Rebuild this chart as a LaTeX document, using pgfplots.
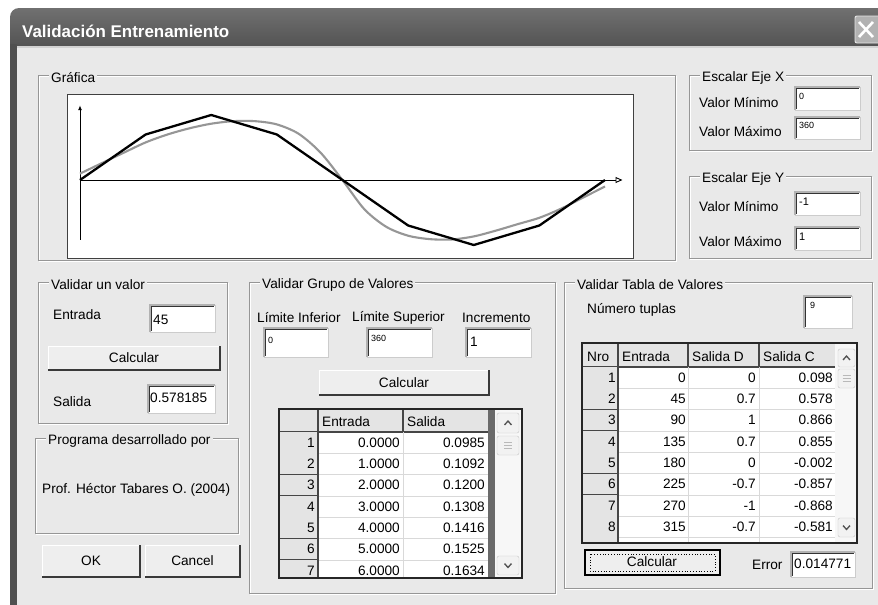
\documentclass[border=0pt]{standalone}
\usepackage{pgfplots}
\pgfplotsset{compat=1.18}
\usetikzlibrary{arrows.meta}
\usepackage{fontspec}
\setmainfont{Liberation Sans}
\definecolor{bg}{RGB}{233,233,233}
\definecolor{btnbg}{RGB}{238,238,238}
\definecolor{cellbg}{RGB}{228,228,228}
\definecolor{gline}{RGB}{150,150,150}
\definecolor{dark}{RGB}{80,80,80}
\definecolor{netgray}{RGB}{150,150,150}
\newcommand\gf{\fontsize{13.7}{16}\selectfont}
\newcommand\smf{\fontsize{9}{10}\selectfont}
\newcommand\gbox[5]{%
  \draw[white] (#1+1,#2+1) rectangle (#3+1,#4+1);
  \draw[gline] (#1,#2) rectangle (#3,#4);
  \node[fill=bg, inner xsep=2bp, inner ysep=1bp, anchor=west] at (#1+11,#2+2.5) {#5};}
\newcommand\tb[4]{%
  \fill[white] (#1,#2) rectangle (#3,#4);
  \draw[gray!40] (#1,#4) -- (#3,#4) -- (#3,#2);
  \draw[gray!60, line width=1.2] (#1,#4) -- (#1,#2) -- (#3,#2);
  \draw[gray!40!black, line width=0.9] (#1+1.3,#4-1) -- (#1+1.3,#2+1.3) -- (#3-1,#2+1.3);}
\newcommand\btn[5]{%
  \fill[btnbg] (#1,#2) rectangle (#3,#4);
  \draw[white, line width=1] (#1,#4) -- (#1,#2) -- (#3,#2);
  \draw[gray!45!black, line width=1.3] (#1,#4) -- (#3,#4) -- (#3,#2);
  \node at ({(#1+#3)/2},{(#2+#4)/2}) {#5};}
\newcommand\sbtn[5]{%
  \filldraw[fill=gray!10, draw=gray!45, rounded corners=2bp] (#1,#2) rectangle (#3,#4);
  \draw[gray!65!black, line width=1.4] ({(#1+#3)/2-3.5},{(#2+#4)/2+#5*1.8}) -- ({(#1+#3)/2},{(#2+#4)/2-#5*1.8}) -- ({(#1+#3)/2+3.5},{(#2+#4)/2+#5*1.8});}
\newcommand\thumb[4]{%
  \filldraw[fill=gray!10, draw=gray!45, rounded corners=2bp] (#1,#2) rectangle (#3,#4);
  \draw[gray!55] ({(#1+#3)/2-4},{(#2+#4)/2-3}) -- ++(8,0) ({(#1+#3)/2-4},{(#2+#4)/2}) -- ++(8,0) ({(#1+#3)/2-4},{(#2+#4)/2+3}) -- ++(8,0);}
\begin{document}
\begin{tikzpicture}
\useasboundingbox (0,0) rectangle (878bp,-605bp);
\clip (0,0) rectangle (878bp,-605bp);
\begin{scope}[x=1bp,y=-1bp, every node/.style={font=\gf, inner sep=0pt, text=black}]
\fill[white] (0,0) rectangle (878,605);
% title bar
\path[rounded corners=9bp, top color={rgb,255:red,112;green,112;blue,112}, bottom color={rgb,255:red,66;green,66;blue,66}] (10,8) rectangle (900,70);
\fill[dark] (10,44) rectangle (17,605);
\fill[bg] (17,47) rectangle (878,605);
\fill[gray!35] (17,46) rectangle (878,47.5);
\node[anchor=west, text=white, font=\fontsize{17}{20}\selectfont\bfseries] at (22,31) {Validación Entrenamiento};
% close button
\filldraw[fill=gray!60, draw=gray!20, line width=1, rounded corners=2bp] (855,16) rectangle (886,43);
\draw[white, line width=2.6] (859,22) -- (873,37) (873,22) -- (859,37);
% ---------- Grafica ----------
\gbox{38}{75}{675}{260}{Gráfica}
\fill[white] (67,94) rectangle (633,258);
\draw[gray!50!black] (67,94) rectangle (633,258);
% ---------- Escalar Eje X ----------
\gbox{689}{75}{871}{150}{Escalar Eje X}
\node[anchor=west] at (699,103) {Valor Mínimo};
\node[anchor=west] at (699,132) {Valor Máximo};
\tb{795}{87}{860}{110}
\node[anchor=west, font=\smf] at (799,96) {0};
\tb{795}{117}{860}{139}
\node[anchor=west, font=\smf] at (799,125) {360};
% ---------- Escalar Eje Y ----------
\gbox{689}{176}{871}{258}{Escalar Eje Y}
\node[anchor=west] at (699,207) {Valor Mínimo};
\node[anchor=west] at (699,242) {Valor Máximo};
\tb{795}{192}{860}{215}
\node[anchor=west, font=\fontsize{11}{12}\selectfont] at (799,202) {-1};
\tb{795}{227}{860}{250}
\node[anchor=west, font=\fontsize{11}{12}\selectfont] at (799,237) {1};
% ---------- Validar un valor ----------
\gbox{38}{282}{227}{423}{Validar un valor}
\node[anchor=west] at (53,315) {Entrada};
\tb{150}{305}{215}{332}
\node[anchor=west] at (153,320) {45};
\btn{48}{346}{220}{370}{Calcular}
\node[anchor=west] at (53,402) {Salida};
\tb{148}{385}{215}{413}
\node[anchor=west] at (150,398) {0.578185};
% ---------- Programa ----------
\gbox{35}{438}{238}{533}{Programa desarrollado por}
\node[anchor=west] at (42,490) {Prof. Héctor Tabares O. (2004)};
\btn{42}{545}{140}{577}{OK}
\btn{145}{545}{240}{577}{Cancel}
% ---------- Validar Grupo ----------
\gbox{249}{282}{555}{593}{Validar Grupo de Valores}
\node[anchor=west] at (257,318) {Límite Inferior};
\node[anchor=west] at (352,318) {Límite Superior};
\node[anchor=west] at (462,318) {Incremento};
\tb{264}{328}{328}{357}
\node[anchor=west, font=\smf] at (268,340) {0};
\tb{367}{328}{432}{357}
\node[anchor=west, font=\smf] at (371,338) {360};
\tb{466}{328}{531}{357}
\node[anchor=west] at (470,342) {1};
\btn{319}{370}{489}{395}{Calcular}
% table 1
\fill[white] (279,409) rectangle (522,578);
\begin{scope}
\clip (280,410) rectangle (521,577);
\fill[cellbg] (280,410) rectangle (488,432);
\draw[gray!55!black, line width=1.2] (318,410) -- (318,432) (403,410) -- (403,432) (280,432) -- (488,432);
\node[anchor=west] at (322,422) {Entrada};
\node[anchor=west] at (407,422) {Salida};
\foreach \i/\a/\b in {1/0.0000/0.0985,2/1.0000/0.1092,3/2.0000/0.1200,4/3.0000/0.1308,5/4.0000/0.1416,6/5.0000/0.1525,7/6.0000/0.1634}{
  \pgfmathsetmacro\yt{432+(\i-1)*21.3}
  \pgfmathsetmacro\yb{\yt+21.3}
  \pgfmathsetmacro\yc{\yt+10.7}
  \fill[cellbg] (280,\yt) rectangle (318,\yb);
  \draw[gray!30] (318,\yb) -- (488,\yb) (403,\yt) -- (403,\yb);
  \draw[gray!55!black, line width=1.2] (280,\yb) -- (318,\yb) -- (318,\yt);
  \node[anchor=east] at (315,\yc) {\i};
  \node[anchor=east] at (400,\yc) {\a};
  \node[anchor=east] at (485,\yc) {\b};
}
\fill[dark!85] (488,410) rectangle (495,577);
\fill[gray!6] (495,410) rectangle (521,577);
\end{scope}
\draw[gray!30!black, line width=1.6] (279,409) rectangle (522,578);
\sbtn{497}{413}{519}{433}{1}
\thumb{497}{436}{519}{455}
\sbtn{497}{556}{519}{575}{-1}
% ---------- Validar Tabla ----------
\gbox{564}{282}{872}{588}{Validar Tabla de Valores}
\node[anchor=west] at (587,310) {Número tuplas};
\tb{804}{296}{852}{328}
\node[anchor=west, font=\smf] at (810,305) {9};
% table 2
\fill[white] (582,343) rectangle (857,543);
\begin{scope}
\clip (583,344) rectangle (856,542);
\fill[cellbg] (583,344) rectangle (835,367);
\draw[gray!55!black, line width=1.2] (618,344) -- (618,367) (688,344) -- (688,367) (759,344) -- (759,367) (583,367) -- (835,367);
\node[anchor=west] at (587,357) {Nro};
\node[anchor=west] at (622,357) {Entrada};
\node[anchor=west] at (692,357) {Salida D};
\node[anchor=west] at (763,357) {Salida C};
\foreach \i/\a/\b/\c in {1/0/0/0.098,2/45/0.7/0.578,3/90/1/0.866,4/135/0.7/0.855,5/180/0/-0.002,6/225/-0.7/-0.857,7/270/-1/-0.868,8/315/-0.7/-0.581,9/ / / }{
  \pgfmathsetmacro\yt{367+(\i-1)*21.3}
  \pgfmathsetmacro\yb{\yt+21.3}
  \pgfmathsetmacro\yc{\yt+10.6}
  \fill[cellbg] (583,\yt) rectangle (618,\yb);
  \draw[gray!30] (618,\yb) -- (835,\yb) (688,\yt) -- (688,\yb) (759,\yt) -- (759,\yb);
  \draw[gray!55!black, line width=1.2] (583,\yb) -- (618,\yb) -- (618,\yt);
  \ifnum\i<9
  \node[anchor=east] at (616,\yc) {\i};
  \node[anchor=east] at (686,\yc) {\a};
  \node[anchor=east] at (756,\yc) {\b};
  \node[anchor=east] at (833,\yc) {\c};
  \fi
}
\fill[gray!6] (835,344) rectangle (856,542);
\end{scope}
\draw[gray!30!black, line width=1.6] (582,343) rectangle (857,543);
\sbtn{838}{349}{855}{367}{1}
\thumb{838}{369}{855}{388}
\sbtn{838}{518}{855}{537}{-1}
% default button
\fill[btnbg] (585,550) rectangle (720,575);
\draw[black, line width=1.6] (585,550) rectangle (720,575);
\draw[black, dotted, line width=0.8] (590,554) rectangle (715,571);
\node at (652,562) {Calcular};
\node[anchor=west] at (752,565) {Error};
\tb{791}{552}{855}{577}
\node[anchor=west] at (794,564) {0.014771};
\end{scope}
% ---------- chart ----------
\begin{axis}[at={(67bp,-258bp)}, anchor=south west, width=566bp, height=164bp,
  scale only axis, xmin=-8.91, xmax=379.2, ymin=-1.2, ymax=1.323, hide axis, clip=false]
\draw[black, line width=0.9bp, -{Latex[length=5bp,width=4bp]}] (axis cs:0,-0.92) -- (axis cs:0,1.15);
\draw[black, line width=0.9bp, -{Triangle[open,length=7bp,width=6bp]}] (axis cs:0,0) -- (axis cs:372,0);
\addplot[netgray, line width=2.1bp, smooth] coordinates {
(0,0.098) (15,0.26) (30,0.42) (45,0.578) (60,0.70) (75,0.795) (90,0.866) (105,0.905) (120,0.905)
(135,0.855) (150,0.71) (165,0.42) (180,-0.002) (195,-0.45) (210,-0.72) (225,-0.857) (240,-0.91)
(255,-0.915) (270,-0.868) (285,-0.78) (300,-0.68) (315,-0.581) (330,-0.44) (345,-0.27) (360,-0.10)};
\addplot[black, line width=2.3bp] coordinates {
(0,0) (45,0.7) (90,1) (135,0.7) (180,0) (225,-0.7) (270,-1) (315,-0.7) (360,0)};
\end{axis}
\end{tikzpicture}
\end{document}
